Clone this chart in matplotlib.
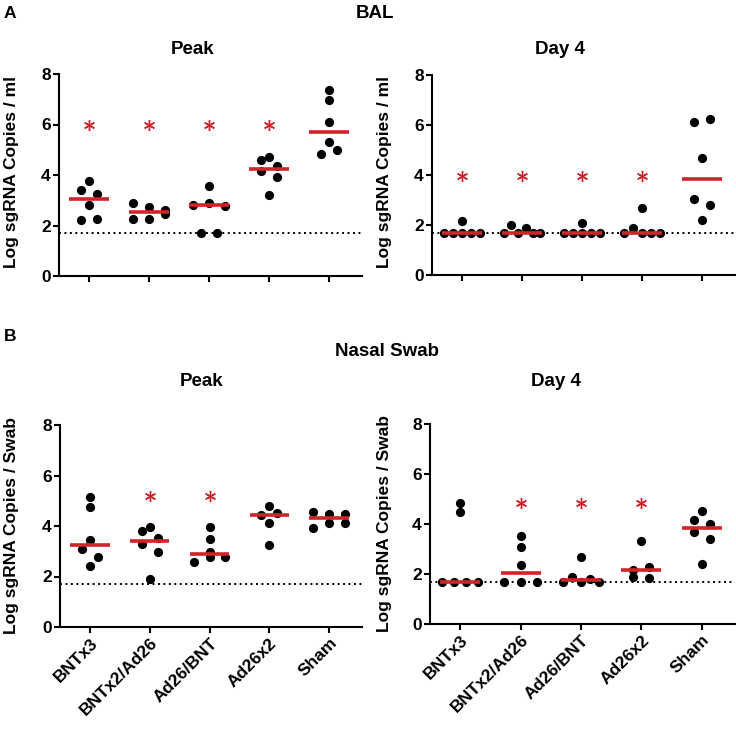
#Scatter panels of sgRNA copies, BAL and nasal swab
import numpy as np
import matplotlib.pyplot as plt

plt.rcParams['font.family'] = ['Liberation Sans', 'DejaVu Sans']
plt.rcParams['font.weight'] = 'bold'

groups = ['BNTx3', 'BNTx2/Ad26', 'Ad26/BNT', 'Ad26x2', 'Sham']
LOD = 1.7  #limit of detection, dotted line

#values listed roughly left to right as they sit in the swarm
bal_peak = [[3.76, 3.40, 3.23, 2.83, 2.21, 2.27],
            [2.90, 2.74, 2.61, 2.27, 2.27, 2.45],
            [3.57, 2.81, 2.90, 2.78, LOD, LOD],
            [4.61, 4.72, 4.35, 4.16, 3.93, 3.19],
            [7.35, 6.98, 6.09, 5.30, 4.85, 4.98]]
bal_day4 = [[LOD, LOD, 2.17, LOD, LOD, LOD],
            [LOD, 1.99, LOD, 1.87, LOD, LOD],
            [LOD, LOD, 2.07, LOD, LOD, LOD],
            [LOD, 1.87, LOD, LOD, LOD, 2.68],
            [6.13, 6.23, 4.67, 3.03, 2.79, 2.19]]
ns_peak = [[5.16, 4.77, 3.45, 3.08, 2.79, 2.40],
           [3.79, 3.95, 3.53, 3.27, 2.98, 1.91],
           [3.95, 3.50, 2.99, 2.57, 2.77, 2.77],
           [4.79, 4.44, 4.53, 4.11, 3.23],
           [4.57, 4.48, 4.48, 3.94, 4.13, 4.11]]
ns_day4 = [[4.83, 4.47, LOD, LOD, LOD, LOD],
           [3.52, 3.08, 2.36, LOD, LOD, LOD],
           [2.68, LOD, 1.87, LOD, 1.81, LOD],
           [3.31, 2.15, 2.29, 1.87, 1.84],
           [4.53, 4.16, 4.00, 3.67, 3.41, 2.41]]

#which groups get a star, and at what height
bal_peak_stars = [0, 1, 2, 3]
bal_day4_stars = [0, 1, 2, 3]
ns_peak_stars = [1, 2]
ns_day4_stars = [1, 2, 3]

RED = '#d2232a'
W, H = 736, 733
fig = plt.figure(figsize=(W / 100, H / 100), dpi=100)


def add_ax(l, t, r, b):
    #pixel box -> figure fraction
    return fig.add_axes([l / W, 1 - b / H, (r - l) / W, (b - t) / H])


def swarm_offsets(vals, thr=0.3, px_per_cat=60.0):
    #group close values into rows, spread each row sideways
    vals = np.asarray(vals, float)
    order = np.argsort(vals, kind='stable')
    rows = []
    for i in order:
        if rows and vals[i] - vals[rows[-1][0]] <= thr:
            rows[-1].append(i)
        else:
            rows.append([i])
    offs = np.zeros(len(vals))
    for row in rows:
        row = sorted(row)
        k = len(row)
        if k > 1:
            step = min(16.0, 36.0 / (k - 1))
            for j, i in enumerate(row):
                offs[i] = (j - (k - 1) / 2) * step / px_per_cat
    return offs


def panel(ax, data, stars, star_y, show_labels):
    for g, vals in enumerate(data):
        x = g + swarm_offsets(vals)
        ax.scatter(x, vals, s=44, color='black', linewidths=0, zorder=3, clip_on=False)
        med = np.median(vals)
        ax.plot([g - 0.33, g + 0.33], [med, med], color=RED, lw=2.6,
                solid_capstyle='butt', zorder=4)
    ax.plot(stars, [star_y] * len(stars), ls='none', marker=(6, 2, 0), ms=8,
            mec=RED, mew=1.0, zorder=4)
    ax.axhline(LOD, color='black', lw=1.4, ls=(0, (1, 1.8)), zorder=1)
    ax.set_xlim(-0.5, 4.55)
    ax.set_ylim(0, 8)
    ax.set_yticks([0, 2, 4, 6, 8])
    ax.set_xticks(range(len(groups)))
    if show_labels:
        ax.set_xticklabels(groups, rotation=45, ha='right', rotation_mode='anchor')
    else:
        ax.set_xticklabels([])
    for s in ['top', 'right']:
        ax.spines[s].set_visible(False)
    for s in ['left', 'bottom']:
        ax.spines[s].set_linewidth(1.5)
    ax.tick_params(direction='out', length=4, width=1.5, labelsize=12.5, pad=2)
    for lab in ax.get_xticklabels() + ax.get_yticklabels():
        lab.set_fontweight('bold')


ax1 = add_ax(59, 74, 362, 276)
panel(ax1, bal_peak, bal_peak_stars, 6.0, False)
ax2 = add_ax(432, 75, 735, 275)
panel(ax2, bal_day4, bal_day4_stars, 3.96, False)
ax3 = add_ax(60, 425, 362, 627)
panel(ax3, ns_peak, ns_peak_stars, 5.2, True)
ax4 = add_ax(430, 424, 735, 624)
panel(ax4, ns_day4, ns_day4_stars, 4.85, True)


def ftext(x, y, s, **kw):
    fig.text(x / W, 1 - y / H, s, ha='center', va='center', fontweight='bold', **kw)


ftext(10, 14, 'A', fontsize=12.5)
ftext(10, 337, 'B', fontsize=12.5)
ftext(375, 14, 'BAL', fontsize=13.5)
ftext(387, 351, 'Nasal Swab', fontsize=13.5)
ftext(193, 50, 'Peak', fontsize=13.5)
ftext(560, 50, 'Day 4', fontsize=13.5)
ftext(202, 381, 'Peak', fontsize=13.5)
ftext(556, 381, 'Day 4', fontsize=13.5)
ftext(12, 172, 'Log sgRNA Copies / ml', fontsize=12.5, rotation=90)
ftext(385, 172, 'Log sgRNA Copies / ml', fontsize=12.5, rotation=90)
ftext(12, 526, 'Log sgRNA Copies / Swab', fontsize=12.5, rotation=90)
ftext(385, 524, 'Log sgRNA Copies / Swab', fontsize=12.5, rotation=90)

fig.savefig('out.png', dpi=100)
